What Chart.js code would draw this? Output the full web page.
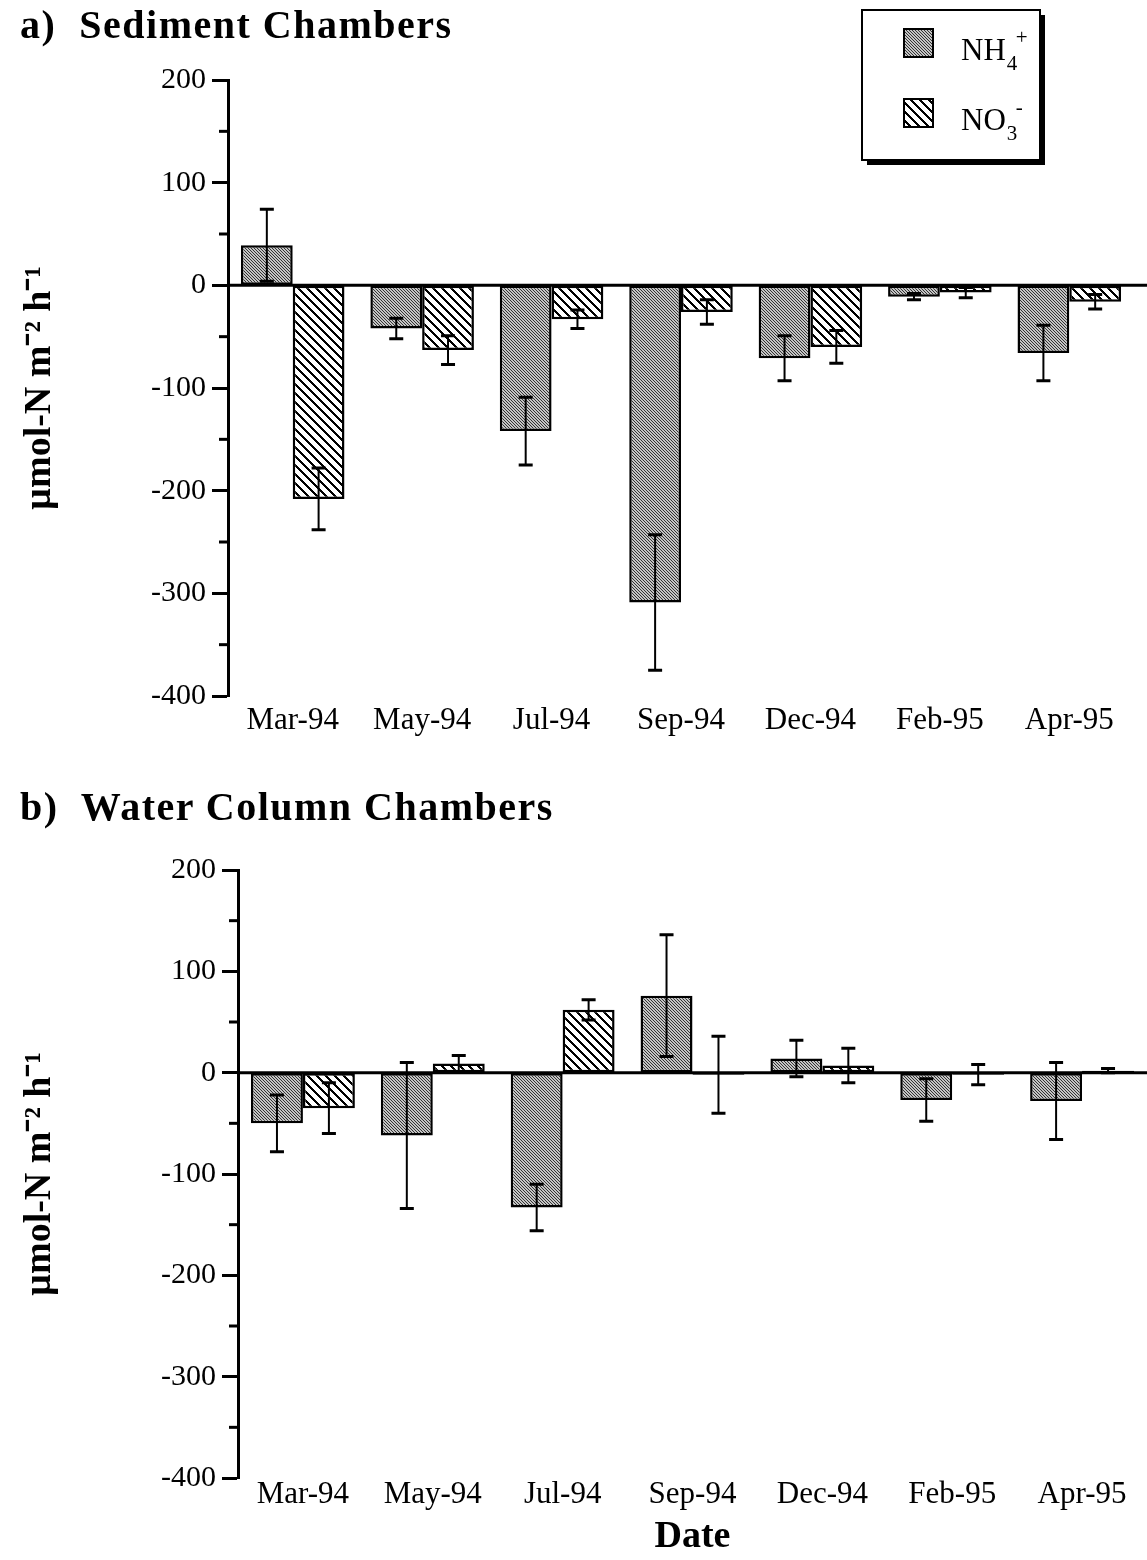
<!DOCTYPE html>
<html>
<head>
<meta charset="utf-8">
<script src="https://cdn.jsdelivr.net/npm/chart.js@4.4.0/dist/chart.umd.min.js"></script>
<style>
  body { margin: 0; background: #fff; }
  #page { position: relative; width: 1147px; height: 1560px; font-family: 'Liberation Serif', 'Times New Roman', serif; }
  canvas { position: absolute; left: 0; }
  .panel-title { position: absolute; left: 20px; font-weight: bold; font-size: 40px; line-height: 40px; letter-spacing: 1.5px; white-space: pre; z-index: 2; }
</style>
</head>
<body>
<div id="page">
  <canvas id="chartA" width="1147" height="760" style="top:0"></canvas>
  <canvas id="chartB" width="1147" height="800" style="top:760px"></canvas>
  <div class="panel-title" style="top:5px">a)  Sediment Chambers</div>
  <div class="panel-title" style="top:787px">b)  Water Column Chambers</div>
</div>
<script>
const dates = ['Mar-94', 'May-94', 'Jul-94', 'Sep-94', 'Dec-94', 'Feb-95', 'Apr-95'];

// a) sediment chambers
const sedNH4 = [39, -42, -142, -309, -71, -11, -66];
const sedNH4Err = [35, 10, 33, 66, 22, 3, 27];
const sedNO3 = [-208, -63, -33, -26, -60, -7, -16];
const sedNO3Err = [30, 14, 9, 12, 16, 5, 7];

// b) water column chambers
const watNH4 = [-50, -62, -133, 76, 14, -27, -28];
const watNH4Err = [28, 72, 23, 60, 18, 21, 38];
const watNO3 = [-35, 9, 62, -2, 7, -2, 2];
const watNO3Err = [25, 8, 10, 38, 17, 10, 2];

const yMin = -400;
const yMax = 200;
const serif = "'Liberation Serif', 'Times New Roman', serif";

//patterns
function makePattern(size, light, dark, thick) {
    const c = document.createElement('canvas');
    c.width = size;
    c.height = size;
    const g = c.getContext('2d');
    g.fillStyle = light;
    g.fillRect(0, 0, size, size);
    g.fillStyle = dark;
    for (let x = 0; x < size; x++) {
        for (let y = 0; y < size; y++) {
            const d = ((x - y) % size + size) % size;
            if (d < thick) g.fillRect(x, y, 1, 1);
        }
    }
    return g.createPattern(c, 'repeat');
}
const nh4Fill = makePattern(3, '#c4c4c4', '#333333', 1);
const no3Fill = makePattern(9, '#ffffff', '#000000', 3);

// small ticks at the 50s
const minorTicks = {
    id: 'minorTicks',
    afterDraw(chart) {
        const s = chart.scales.y;
        const ctx = chart.ctx;
        ctx.save();
        ctx.strokeStyle = 'black';
        ctx.lineWidth = 3;
        for (let v = s.min + 50; v < s.max; v += 100) {
            const y = s.getPixelForValue(v);
            ctx.beginPath();
            ctx.moveTo(s.right - 9, y);
            ctx.lineTo(s.right, y);
            ctx.stroke();
        }
        ctx.restore();
    }
};

const errorBars = {
    id: 'errorBars',
    afterDatasetsDraw(chart, args, opts) {
        const ctx = chart.ctx;
        const yScale = chart.scales.y;
        ctx.save();
        ctx.strokeStyle = 'black';
        chart.data.datasets.forEach((ds, di) => {
            const meta = chart.getDatasetMeta(di);
            const errs = opts.errors[di];
            meta.data.forEach((bar, i) => {
                const v = ds.data[i];
                const yHi = yScale.getPixelForValue(v + errs[i]);
                const yLo = yScale.getPixelForValue(v - errs[i]);
                ctx.lineWidth = 2;
                ctx.beginPath();
                ctx.moveTo(bar.x, yHi);
                ctx.lineTo(bar.x, yLo);
                ctx.stroke();
                ctx.lineWidth = 3;
                ctx.beginPath();
                ctx.moveTo(bar.x - 7, yHi);
                ctx.lineTo(bar.x + 7, yHi);
                ctx.moveTo(bar.x - 7, yLo);
                ctx.lineTo(bar.x + 7, yLo);
                ctx.stroke();
            });
        });
        ctx.restore();
    }
};

// the zero line runs to the right edge
const zeroLine = {
    id: 'zeroLine',
    beforeDatasetsDraw(chart) {
        const y = chart.scales.y.getPixelForValue(0);
        const ctx = chart.ctx;
        ctx.save();
        ctx.strokeStyle = 'black';
        ctx.lineWidth = 3;
        ctx.beginPath();
        ctx.moveTo(chart.chartArea.left, y);
        ctx.lineTo(chart.width, y);
        ctx.stroke();
        ctx.restore();
    }
};

// boxed legend with sub/superscripts
const boxLegend = {
    id: 'boxLegend',
    afterDraw(chart, args, opts) {
        if (!opts.show) return;
        const ctx = chart.ctx;
        const bx = 862, by = 10, bw = 178, bh = 150;
        ctx.save();
        ctx.fillStyle = 'black';
        ctx.fillRect(bx + 5, by + 5, bw, bh);
        ctx.fillStyle = 'white';
        ctx.fillRect(bx, by, bw, bh);
        ctx.strokeStyle = 'black';
        ctx.lineWidth = 2;
        ctx.strokeRect(bx, by, bw, bh);

        const entries = [
            { fill: nh4Fill, base: 'NH', sub: '4', sup: '+', y: 29 },
            { fill: no3Fill, base: 'NO', sub: '3', sup: '-', y: 99 }
        ];
        entries.forEach(e => {
            ctx.fillStyle = e.fill;
            ctx.fillRect(904, e.y, 29, 28);
            ctx.lineWidth = 2;
            ctx.strokeRect(904, e.y, 29, 28);
            ctx.fillStyle = 'black';
            ctx.textBaseline = 'alphabetic';
            ctx.font = '31px ' + serif;
            const baseY = e.y + 31;
            ctx.fillText(e.base, 961, baseY);
            const w = ctx.measureText(e.base).width;
            ctx.font = '21px ' + serif;
            ctx.fillText(e.sub, 961 + w + 1, baseY + 10);
            ctx.fillText(e.sup, 961 + w + 10, baseY - 16);
        });
        ctx.restore();
    }
};

function makeChart(canvas, nh4, nh4Err, no3, no3Err, cfg) {
    return new Chart(canvas.getContext('2d'), {
        type: 'bar',
        data: {
            labels: dates,
            datasets: [
                { label: 'NH4+', data: nh4, backgroundColor: nh4Fill },
                { label: 'NO3-', data: no3, backgroundColor: no3Fill }
            ]
        },
        options: {
            responsive: false,
            animation: false,
            layout: { padding: { top: cfg.padTop, right: cfg.padRight, left: 0, bottom: 0 } },
            datasets: {
                bar: {
                    borderColor: 'black',
                    borderWidth: 2.5,
                    borderSkipped: false,
                    categoryPercentage: 0.8,
                    barPercentage: 1.0
                }
            },
            plugins: {
                legend: { display: false },
                tooltip: { enabled: false },
                errorBars: { errors: [nh4Err, no3Err] },
                boxLegend: { show: cfg.legend }
            },
            scales: {
                x: {
                    grid: { display: false, drawTicks: false },
                    border: { display: false },
                    ticks: { color: 'black', font: { family: serif, size: 31 }, padding: cfg.xPad, maxRotation: 0, autoSkip: false },
                    title: {
                        display: cfg.xTitle,
                        text: 'Date',
                        color: 'black',
                        font: { family: serif, size: 38, weight: 'bold' },
                        padding: { top: 0, bottom: 0 }
                    },
                    afterFit: s => { s.height = cfg.xHeight; }
                },
                y: {
                    min: yMin,
                    max: yMax,
                    ticks: { stepSize: 100, color: 'black', font: { family: serif, size: 30 }, padding: 6 },
                    border: { color: 'black', width: 3 },
                    grid: {
                        display: true,
                        color: 'rgba(0,0,0,0)',
                        tickColor: 'black',
                        tickWidth: 3,
                        tickLength: 16
                    },
                    title: {
                        display: true,
                        text: 'µmol-N m⁻² h⁻¹',
                        color: 'black',
                        font: { family: serif, size: 38, weight: 'bold' },
                        padding: { top: 17, bottom: 0 }
                    },
                    afterFit: s => { s.width = cfg.axisLeft; }
                }
            }
        },
        plugins: [zeroLine, minorTicks, errorBars, boxLegend]
    });
}

makeChart(document.getElementById('chartA'), sedNH4, sedNH4Err, sedNO3, sedNO3Err,
    { padTop: 80, padRight: 13, axisLeft: 228, xHeight: 64, xPad: 6, xTitle: false, legend: true });
makeChart(document.getElementById('chartB'), watNH4, watNH4Err, watNO3, watNO3Err,
    { padTop: 110, padRight: 0, axisLeft: 238, xHeight: 82, xPad: -2, xTitle: true, legend: false });
</script>
</body>
</html>
